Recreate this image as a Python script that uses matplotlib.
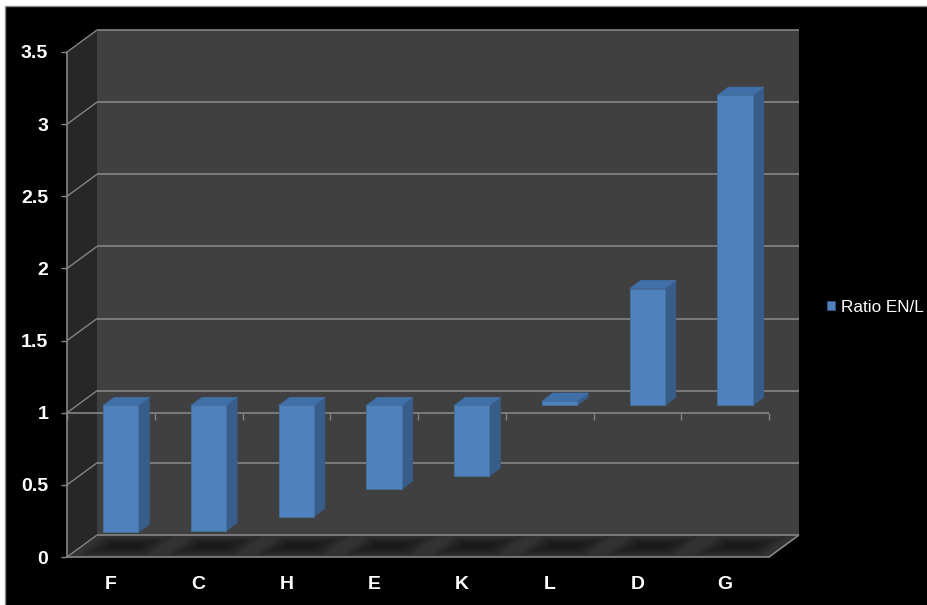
import numpy as np
import matplotlib
matplotlib.use("Agg")
import matplotlib.pyplot as plt
from matplotlib.patches import Polygon, Rectangle, Patch

# Chart data
categories = ["F", "C", "H", "E", "K", "L", "D", "G"]
ratio = [0.12, 0.13, 0.23, 0.42, 0.51, 1.03, 1.81, 3.15]
baseline = 1.0
y_ticks = [0, 0.5, 1, 1.5, 2, 2.5, 3, 3.5]
y_tick_labels = ["0", "0.5", "1", "1.5", "2", "2.5", "3", "3.5"]
series_name = "Ratio EN/L"

# Colours
BAR_FRONT = "#4F81BD"
BAR_SIDE = "#385D8A"
BAR_TOP = "#416FA8"
BACK_WALL = "#404040"
SIDE_WALL = "#272727"
FLOOR = "#323232"
LINE = "#858585"

W, H = 927, 605
fig = plt.figure(figsize=(W / 100, H / 100), dpi=100, facecolor="white")
fig.add_artist(Rectangle((5 / W, -0.01), 1.0, 1 - 6 / H + 0.01,
                         transform=fig.transFigure, facecolor="black",
                         edgecolor="#8c8c8c", lw=1.0, zorder=0))

ax = fig.add_axes([67 / W, 48 / H, 702 / W, 505 / H])
n = len(categories)
ax.set_xlim(-0.5, n - 0.5)
ax.set_ylim(y_ticks[0], y_ticks[-1])
ax.patch.set_visible(False)

# Oblique depth: the back plane sits 30 px right and 22 px up of the front plane
px_x = ax.bbox.width / (n)
px_y = ax.bbox.height / (y_ticks[-1] - y_ticks[0])
DX, DY = 30 / px_x, 22 / px_y
XL, XR = -0.5, n - 0.5
VT = y_ticks[-1]


def proj(x, v, d):
    return (x + d * DX, v + d * DY)


def poly(pts, z, **kw):
    ax.add_patch(Polygon(pts, closed=True, clip_on=False, zorder=z, **kw))


def seg(p, q, z, **kw):
    ax.plot([p[0], q[0]], [p[1], q[1]], clip_on=False, zorder=z,
            solid_capstyle="butt", **kw)


# Walls and floor
poly([proj(XL, 0, 1), proj(XR, 0, 1), proj(XR, VT, 1), proj(XL, VT, 1)], 0.5,
     facecolor=BACK_WALL, edgecolor="none")
poly([proj(XL, 0, 0), proj(XL, 0, 1), proj(XL, VT, 1), proj(XL, VT, 0)], 0.6,
     facecolor=SIDE_WALL, edgecolor="none")
poly([proj(XL, 0, 0), proj(XR, 0, 0), proj(XR, 0, 1), proj(XL, 0, 1)], 0.6,
     facecolor=FLOOR, edgecolor="none")

# Soft shadows on the floor under each bar
for i in range(n):
    for k in range(7):
        s = 0.40 - 0.035 * k
        dd = 0.06 + 0.055 * k
        poly([proj(i - s, 0, dd), proj(i + s, 0, dd),
              proj(i + s, 0, 1 - dd), proj(i - s, 0, 1 - dd)], 0.7,
             facecolor="black", edgecolor="none", alpha=0.08)

# Gridlines on the back wall and their diagonals on the side wall
for v in y_ticks:
    seg(proj(XL, v, 1), proj(XR, v, 1), 0.8, color=LINE, lw=1.2)
    seg(proj(XL, v, 0), proj(XL, v, 1), 0.8, color=LINE, lw=1.0)
seg(proj(XR, 0, 0), proj(XR, 0, 1), 0.8, color=LINE, lw=1.2)

# Category axis crossing at the baseline value
seg(proj(XL, baseline, 0), proj(XR, baseline, 0), 0.9, color=LINE, lw=1.2)
tick_len = 7 / px_y
for b in np.arange(XL, XR + 0.01, 1.0):
    seg((b, baseline), (b, baseline - tick_len), 0.9, color=LINE, lw=1.0)

# Bars drawn from the baseline to each value
d0, d1 = 0.33, 0.70
hw = 0.2
for i, v in enumerate(ratio):
    lo, hi = min(v, baseline), max(v, baseline)
    x0, x1 = i - hw, i + hw
    poly([proj(x1, lo, d0), proj(x1, lo, d1), proj(x1, hi, d1), proj(x1, hi, d0)],
         1.0, facecolor=BAR_SIDE, edgecolor=BAR_SIDE, lw=0.5)
    poly([proj(x0, hi, d0), proj(x1, hi, d0), proj(x1, hi, d1), proj(x0, hi, d1)],
         1.0, facecolor=BAR_TOP, edgecolor=BAR_TOP, lw=0.5)
    poly([proj(x0, lo, d0), proj(x1, lo, d0), proj(x1, hi, d0), proj(x0, hi, d0)],
         1.1, facecolor=BAR_FRONT, edgecolor="#45729f", lw=0.6)

# Axes styling
for side in ("top", "right"):
    ax.spines[side].set_visible(False)
for side in ("left", "bottom"):
    ax.spines[side].set_color(LINE)
    ax.spines[side].set_linewidth(1.2)
    ax.spines[side].set_zorder(3)

label_font = dict(family=["Liberation Sans", "DejaVu Sans"], weight="bold", size=14)
ax.set_yticks(y_ticks)
ax.set_yticklabels(y_tick_labels, color="white", **label_font)
ax.tick_params(axis="y", direction="out", length=4.5, width=1.0, color=LINE, pad=9)
ax.set_xticks(range(n))
ax.set_xticklabels(categories, color="white", **label_font)
ax.tick_params(axis="x", length=0, pad=14)

# Legend
leg = ax.legend(handles=[Patch(facecolor=BAR_FRONT, edgecolor="#2f5a8f", lw=0.6)],
                labels=[series_name], loc="center left",
                bbox_to_anchor=(827 / W, 1 - 307 / H), bbox_transform=fig.transFigure,
                frameon=False, borderaxespad=0, borderpad=0,
                handlelength=0.45, handleheight=0.45, handletextpad=0.35,
                prop=dict(family=["Liberation Sans", "DejaVu Sans"], size=12.3))
for t in leg.get_texts():
    t.set_color("white")

fig.savefig("out.png", dpi=100, facecolor=fig.get_facecolor())
